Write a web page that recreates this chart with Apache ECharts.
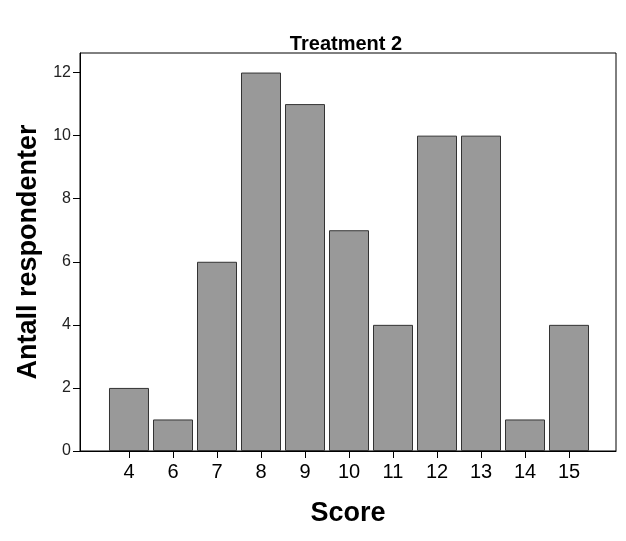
<!DOCTYPE html>
<html>
<head>
<meta charset="utf-8">
<script src="https://cdn.jsdelivr.net/npm/echarts@6/dist/echarts.min.js"></script>
<style>
html,body{margin:0;padding:0;background:#fff;}
#chart{width:626px;height:541px;}
</style>
</head>
<body>
<div id="chart"></div>
<script>
const categories = ['4','6','7','8','9','10','11','12','13','14','15'];
const counts = [2, 1, 6, 12, 11, 7, 4, 10, 10, 1, 4];
const yTicks = [0, 2, 4, 6, 8, 10, 12];
const titleText = 'Treatment 2';
const xName = 'Score';
const yName = 'Antall respondenter';

const idx = categories.map((c, i) => i);
const chart = echarts.init(document.getElementById('chart'), null, {renderer: 'canvas'});
const FONT = 'Liberation Sans';
chart.setOption({
  animation: false,
  backgroundColor: '#fff',
  title: {
    text: titleText,
    left: 341, textAlign: 'center', top: 29,
    textStyle: {fontFamily: FONT, fontWeight: 'bold', fontSize: 20, color: '#000'}
  },
  grid: {
    left: 80, top: 53, right: 10, bottom: 90,
    show: true, borderColor: '#000', borderWidth: 1, backgroundColor: 'transparent'
  },
  xAxis: {
    type: 'value',
    min: -1.1136, max: 11.068,
    name: xName, nameLocation: 'middle', nameGap: 49,
    nameTextStyle: {fontFamily: FONT, fontWeight: 'bold', fontSize: 27, color: '#000'},
    splitLine: {show: false},
    axisLine: {show: true, onZero: false, lineStyle: {color: '#000', width: 1}},
    axisTick: {show: true, length: 7, customValues: idx, lineStyle: {color: '#000'}},
    axisLabel: {
      customValues: idx, margin: 11,
      formatter: v => categories[Math.round(v)],
      fontFamily: FONT, fontSize: 20, color: '#000'
    }
  },
  yAxis: {
    type: 'value',
    min: 0, max: 12.62,
    name: yName, nameLocation: 'middle', nameGap: 36,
    nameTextStyle: {fontFamily: FONT, fontWeight: 'bold', fontSize: 27, color: '#000'},
    splitLine: {show: false},
    axisLine: {show: true, onZero: false, lineStyle: {color: '#000', width: 1}},
    axisTick: {show: true, length: 7, customValues: yTicks, lineStyle: {color: '#000'}},
    axisLabel: {
      customValues: yTicks, margin: 9,
      fontFamily: FONT, fontSize: 16, color: '#222'
    }
  },
  series: [{
    type: 'bar',
    data: counts.map((v, i) => [i, v]),
    barWidth: 40,
    itemStyle: {color: '#999999', borderColor: '#333333', borderWidth: 1}
  }]
});
</script>
</body>
</html>
